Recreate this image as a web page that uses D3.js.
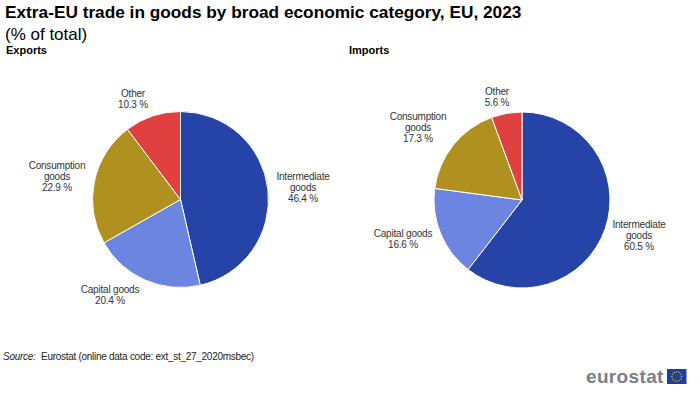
<!DOCTYPE html>
<html>
<head>
<meta charset="utf-8">
<script src="https://cdn.jsdelivr.net/npm/d3@7"></script>
<style>
html, body { margin: 0; padding: 0; background: #fff; }
svg { display: block; font-family: "Liberation Sans", Arial, sans-serif; }
</style>
</head>
<body>
<svg id="chart" width="700" height="401"></svg>
<script>
// data
var categories = ["Intermediate goods", "Capital goods", "Consumption goods", "Other"];
var exportsValues = [46.4, 20.4, 22.9, 10.3];
var importsValues = [60.5, 16.6, 17.3, 5.6];
var labelLines = [["Intermediate", "goods"], ["Capital goods"], ["Consumption", "goods"], ["Other"]];

var colors = d3.scaleOrdinal().domain(categories).range(["#2644a7", "#6b85e0", "#b09120", "#e04040"]);

// label places, centre x and first line y
var exportsLabelPos = [[303, 180], [110, 293], [57, 169], [133, 97]];
var importsLabelPos = [[639, 228], [403, 237], [418, 120], [497, 95]];

var svg = d3.select("#chart");

svg.append("text").attr("x", 5).attr("y", 18)
	.style("font-size", "17.25px").style("font-weight", "bold").attr("fill", "#000")
	.text("Extra-EU trade in goods by broad economic category, EU, 2023");
svg.append("text").attr("x", 5).attr("y", 39.5)
	.style("font-size", "17px").attr("fill", "#000")
	.text("(% of total)");

function draw_pie(title, titleX, values, cx, cy, radius, labelPos) {
	svg.append("text").attr("x", titleX).attr("y", 54)
		.style("font-size", "11px").style("font-weight", "bold").attr("fill", "#000")
		.text(title);

	var pie = d3.pie().sort(null);
	var arc = d3.arc().innerRadius(0).outerRadius(radius);
	var g = svg.append("g").attr("transform", "translate(" + cx + "," + cy + ")");

	g.selectAll("path")
		.data(pie(values))
		.enter().append("path")
		.attr("d", arc)
		.attr("fill", function(d, i) { return colors(categories[i]); })
		.attr("stroke", "#fff")
		.attr("stroke-width", 1);

	values.forEach(function(v, i) {
		var lines = labelLines[i].concat([v.toFixed(1) + " %"]);
		var t = svg.append("text")
			.attr("text-anchor", "middle")
			.style("font-size", "10px")
			.style("letter-spacing", "-0.2px")
			.attr("fill", "#333");
		lines.forEach(function(line, j) {
			t.append("tspan")
				.attr("x", labelPos[i][0])
				.attr("y", labelPos[i][1] + j * 11)
				.text(line);
		});
	});
}

draw_pie("Exports", 6, exportsValues, 180.5, 199.5, 88, exportsLabelPos);
draw_pie("Imports", 349, importsValues, 522, 200, 88, importsLabelPos);

var source = svg.append("text").attr("x", 3).attr("y", 360)
	.style("font-size", "10px").style("letter-spacing", "-0.28px").attr("fill", "#222");
source.append("tspan").style("font-style", "italic").text("Source:");
source.append("tspan").attr("x", 41).text("Eurostat (online data code: ext_st_27_2020msbec)");

// logo
svg.append("text").attr("x", 586).attr("y", 383)
	.style("font-size", "19px").style("font-weight", "bold").attr("fill", "#7b7f86")
	.style("letter-spacing", "0.35px")
	.text("eurostat");
svg.append("rect").attr("x", 667).attr("y", 369).attr("width", 19.5).attr("height", 15).attr("fill", "#1f3f9e");
var stars = svg.append("g").attr("transform", "translate(676.7,376.5)");
d3.range(12).forEach(function(i) {
	var a = i * Math.PI / 6;
	stars.append("circle").attr("cx", 4.8 * Math.cos(a)).attr("cy", 4.8 * Math.sin(a)).attr("r", 0.7).attr("fill", "#d9c22a");
});
</script>
</body>
</html>
